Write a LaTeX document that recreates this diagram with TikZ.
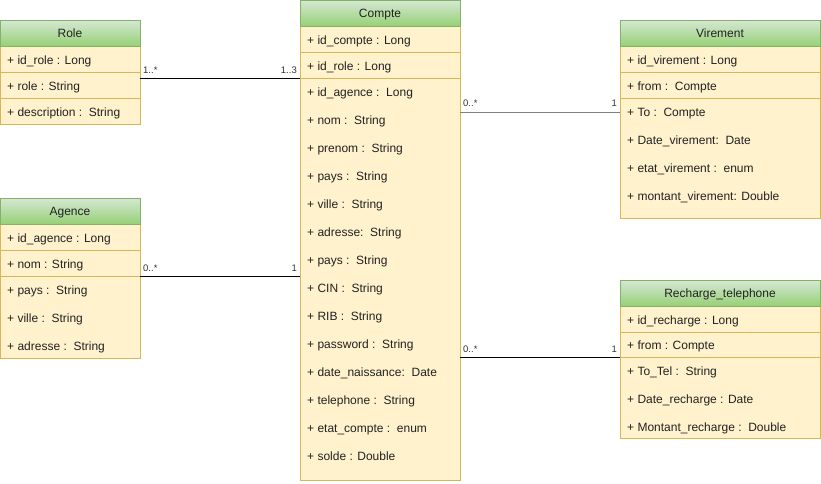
\documentclass[tikz,border=0pt]{standalone}
\usepackage{fontspec}
\setmainfont{Liberation Sans}
\definecolor{bodyfill}{HTML}{FFF2CC}
\definecolor{bodyline}{HTML}{D6B656}
\definecolor{headtop}{HTML}{D5E8D4}
\definecolor{headbot}{HTML}{97D077}
\definecolor{headline}{HTML}{82B366}
\definecolor{lblcol}{HTML}{333333}
\definecolor{txtcol}{HTML}{222222}
\definecolor{graylink}{HTML}{808080}
\begin{document}
\begin{tikzpicture}[x=1pt,y=-1pt,
  classbody/.style={draw=bodyline,fill=bodyfill,line width=0.9pt,anchor=north west,inner sep=0pt,outer sep=0pt},
  classhead/.style={draw=headline,top color=headtop,bottom color=headbot,line width=0.9pt,anchor=north west,inner sep=0pt,outer sep=0pt,minimum height=26pt},
  headtext/.style={anchor=base,inner sep=0pt,font=\fontsize{12}{14}\selectfont,text=txtcol},
  sep/.style={draw=bodyline,line width=0.9pt},
  attr/.style={anchor=base west,inner sep=0pt,font=\fontsize{12}{14}\selectfont,text=txtcol},
  mult/.style={inner sep=0pt,font=\fontsize{9.5}{11}\selectfont,text=lblcol},
  link/.style={draw=black,line width=0.9pt}
]
\useasboundingbox (0,0) rectangle (821,483);

% ---------- Role ----------
\node[classbody,minimum width=140pt,minimum height=104pt] (role) at (0,20) {};
\node[classhead,minimum width=140pt] (rolehead) at (0,20) {};
\node[headtext] at (70,37.5) {Role};
\draw[sep] (0,72) -- (140,72);
\draw[sep] (0,98) -- (140,98);
\node[attr] (r1) at (7,64.5) {+ id\_role : Long};
\node[attr] (r2) at (7,90.5) {+ role : String};
\node[attr] (r3) at (7,116.5) {+ description :\ \ String};

% ---------- Compte ----------
\node[classbody,minimum width=160pt,minimum height=480pt] (compte) at (300,0) {};
\node[classhead,minimum width=160pt] (comptehead) at (300,0) {};
\node[headtext] at (380,17.5) {Compte};
\draw[sep] (300,52) -- (460,52);
\draw[sep] (300,78) -- (460,78);
\node[attr] (c1) at (307,44.5) {+ id\_compte : Long};
\node[attr] (c2) at (307,70.5) {+ id\_role : Long};
\foreach \t [count=\i from 0] in {%
  {+ id\_agence :\ \ Long},{+ nom :\ \ String},{+ prenom :\ \ String},{+ pays :\ \ String},
  {+ ville :\ \ String},{+ adresse:\ \ String},{+ pays :\ \ String},{+ CIN :\ \ String},
  {+ RIB :\ \ String},{+ password :\ \ String},{+ date\_naissance:\ \ Date},
  {+ telephone :\ \ String},{+ etat\_compte :\ \ enum},{+ solde : Double}}
  \node[attr] (ca\i) at (307,96.5+28*\i) {\t};

% ---------- Agence ----------
\node[classbody,minimum width=140pt,minimum height=160pt] (agence) at (0,198) {};
\node[classhead,minimum width=140pt] (agencehead) at (0,198) {};
\node[headtext] at (70,215.5) {Agence};
\draw[sep] (0,250) -- (140,250);
\draw[sep] (0,276) -- (140,276);
\node[attr] (a1) at (7,242.5) {+ id\_agence : Long};
\node[attr] (a2) at (7,268.5) {+ nom : String};
\node[attr] (a3) at (7,294.5) {+ pays :\ \ String};
\node[attr] (a4) at (7,322.5) {+ ville :\ \ String};
\node[attr] (a5) at (7,350.5) {+ adresse :\ \ String};

% ---------- Virement ----------
\node[classbody,minimum width=200pt,minimum height=198pt] (vir) at (620,20) {};
\node[classhead,minimum width=200pt] (virhead) at (620,20) {};
\node[headtext] at (720,37.5) {Virement};
\draw[sep] (620,72) -- (820,72);
\draw[sep] (620,98) -- (820,98);
\node[attr] (v1) at (627,64.5) {+ id\_virement : Long};
\node[attr] (v2) at (627,90.5) {+ from :\ \ Compte};
\node[attr] (v3) at (627,116.5) {+ To :\ \ Compte};
\node[attr] (v4) at (627,144.5) {+ Date\_virement:\ \ Date};
\node[attr] (v5) at (627,172.5) {+ etat\_virement :\ \ enum};
\node[attr] (v6) at (627,200.5) {+ montant\_virement: Double};

% ---------- Recharge_telephone ----------
\node[classbody,minimum width=200pt,minimum height=158pt] (rec) at (620,280) {};
\node[classhead,minimum width=200pt] (rechead) at (620,280) {};
\node[headtext] at (720,297.5) {Recharge\_telephone};
\draw[sep] (620,332) -- (820,332);
\draw[sep] (620,357) -- (820,357);
\node[attr] (t1) at (627,324.5) {+ id\_recharge : Long};
\node[attr] (t2) at (627,349.5) {+ from : Compte};
\node[attr] (t3) at (627,375.5) {+ To\_Tel :\ \ String};
\node[attr] (t4) at (627,403.5) {+ Date\_recharge : Date};
\node[attr] (t5) at (627,431.5) {+ Montant\_recharge :\ \ Double};

% ---------- Connectors ----------
\draw[link] (role.east |- 0,78) -- (compte.west |- 0,78);
\node[mult,anchor=west] at (143,70) {1..*};
\node[mult,anchor=east] at (297,70) {1..3};

\draw[link,draw=graylink] (compte.east |- 0,112) -- (vir.west |- 0,112);
\node[mult,anchor=west] at (463,103) {0..*};
\node[mult,anchor=east] at (617,103) {1};

\draw[link] (agence.east |- 0,276) -- (compte.west |- 0,276);
\node[mult,anchor=west] at (143,268) {0..*};
\node[mult,anchor=east] at (297,268) {1};

\draw[link] (compte.east |- 0,357) -- (rec.west |- 0,357);
\node[mult,anchor=west] at (463,349) {0..*};
\node[mult,anchor=east] at (617,349) {1};
\end{tikzpicture}
\end{document}
